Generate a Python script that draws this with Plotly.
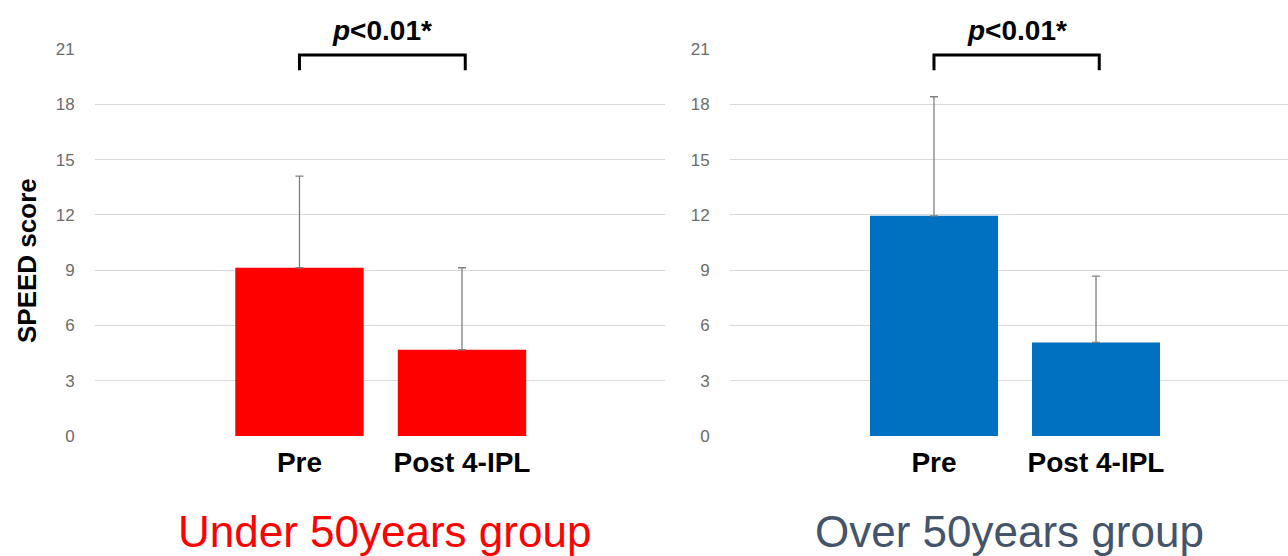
import plotly.graph_objects as go

# SPEED score, mean and SD, before and after 4 IPL sessions
categories = ["Pre", "Post 4-IPL"]
under50_mean = [9.13, 4.68]
under50_sd = [4.97, 4.45]
over50_mean = [11.95, 5.08]
over50_sd = [6.46, 3.60]
y_ticks = [0, 3, 6, 9, 12, 15, 18, 21]
group_titles = ["Under 50years group", "Over 50years group"]
p_label = "<b><i>p</i>&lt;0.01*</b>"

W, H = 1288, 556
y0_px, y21_px = 436, 49
ydom = [(H - y0_px) / H, (H - y21_px) / H]


def py(px):
    """Paper y-fraction for a pixel row measured from the top."""
    return (H - px) / H


fig = go.Figure()

panels = [
    (under50_mean, under50_sd, "#FF0000", "x", "y"),
    (over50_mean, over50_sd, "#0070C0", "x2", "y2"),
]
for mean, sd, color, xa, ya in panels:
    fig.add_trace(go.Bar(
        x=[0, 1], y=mean, width=0.79,
        marker=dict(color=color, line=dict(width=0)),
        error_y=dict(type="data", array=sd, arrayminus=[0, 0], symmetric=False,
                     color="#808080", thickness=1.3, width=4),
        xaxis=xa, yaxis=ya, showlegend=False, hoverinfo="skip",
    ))

tick_font = dict(family="Liberation Sans Narrow, Liberation Sans, Arial", size=17, color="#6b6b6b")
cat_font = dict(family="Liberation Sans, Arial", size=28, color="#000000")

xcommon = dict(tickmode="array", tickvals=[0, 1], ticktext=[f"<b>{c}</b>" for c in categories],
               tickfont=cat_font, ticks="outside", ticklen=1, tickcolor="rgba(0,0,0,0)",
               showgrid=False, zeroline=False, showline=False, fixedrange=True,
               automargin=False)
ycommon = dict(range=[0, 21], tickmode="array", tickvals=y_ticks, tickfont=tick_font,
               showgrid=True, gridcolor="#d9d9d9", gridwidth=1, zeroline=False,
               showline=False, ticks="outside", ticklen=16, tickcolor="rgba(0,0,0,0)",
               domain=ydom, fixedrange=True, automargin=False)

fig.update_layout(
    width=W, height=H,
    margin=dict(l=0, r=0, t=0, b=0, pad=0, autoexpand=False),
    paper_bgcolor="white", plot_bgcolor="white",
    xaxis=dict(domain=[95 / W, 665 / W], range=[-1.258, 2.249], **xcommon),
    yaxis=dict(anchor="x", **ycommon),
    xaxis2=dict(domain=[730 / W, 1.0], range=[-1.259, 2.185], anchor="y2", **xcommon),
    yaxis2=dict(anchor="x2", **ycommon),
)

# significance brackets and p-value labels
for xr, yr in [("x", "y"), ("x2", "y2")]:
    fig.add_shape(type="path", xref=xr, yref=yr,
                  path="M 0,19.85 L 0,20.67 L 1.02,20.67 L 1.02,19.85",
                  line=dict(color="black", width=3))
    fig.add_annotation(x=0.51, y=py(31), xref=xr, yref="paper", text=p_label,
                       showarrow=False, xanchor="center", yanchor="middle",
                       font=dict(family="Liberation Sans, Arial", size=28, color="black"))

# group titles
title_colors = ["#FF0000", "#44546A"]
title_x = [384, 1009]
for txt, col, xpx in zip(group_titles, title_colors, title_x):
    fig.add_annotation(x=xpx / W, y=py(531), xref="paper", yref="paper",
                       text=txt, showarrow=False, xanchor="center", yanchor="middle",
                       font=dict(family="Liberation Sans, Arial", size=44, color=col))

# y-axis title
fig.add_annotation(x=27 / W, y=py(261), xref="paper", yref="paper",
                   text="<b>SPEED score</b>", textangle=-90, showarrow=False,
                   xanchor="center", yanchor="middle",
                   font=dict(family="Liberation Sans, Arial", size=26, color="black"))

fig.write_html("out.html")
